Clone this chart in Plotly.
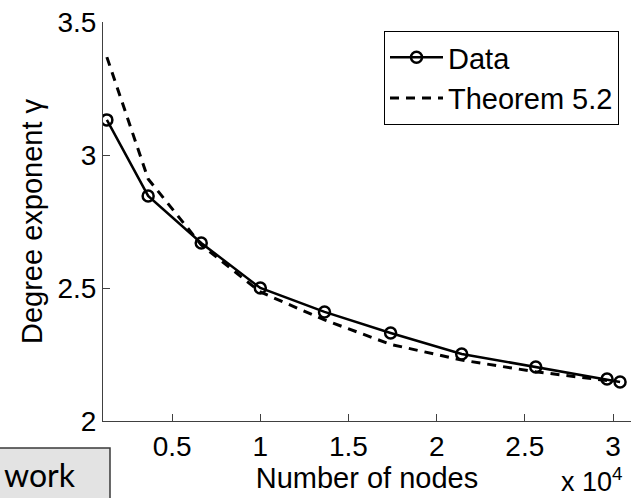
import plotly.graph_objects as go

# ---- data ----
nodes = [1300, 3640, 6650, 10000, 13640, 17390, 21420, 25620, 29660, 30400]
gamma_data = [3.132, 2.846, 2.669, 2.500, 2.410, 2.331, 2.252, 2.203, 2.158, 2.147]
nodes_theory = [1300, 3640, 6650, 10000, 13640, 17390, 21420, 25620, 29660]
gamma_theory = [3.368, 2.910, 2.662, 2.485, 2.380, 2.288, 2.229, 2.185, 2.152]
x_tickvals = [5000, 10000, 15000, 20000, 25000, 30000]
x_ticktext = ["0.5", "1", "1.5", "2", "2.5", "3"]
y_tickvals = [2, 2.5, 3, 3.5]
y_ticktext = ["2", "2.5", "3", "3.5"]

FONT = "Liberation Sans, Arial, sans-serif"
W, H = 631, 498
L, R, T, B = 103, 0, 22, 77

fig = go.Figure()
fig.add_trace(go.Scatter(
    x=nodes, y=gamma_data, name="Data", mode="lines+markers",
    line=dict(color="black", width=2.5),
    marker=dict(symbol="circle-open", size=11, color="black", line=dict(width=2.5)),
))
fig.add_trace(go.Scatter(
    x=nodes_theory, y=gamma_theory, name="Theorem 5.2", mode="lines",
    line=dict(color="black", width=3, dash="9px,7px"),
))

pw = W - L - R
ph = H - T - B

def px(xp):
    return (xp - L) / pw

def py(yp):
    return (H - B - yp) / ph

fig.update_layout(
    width=W, height=H,
    margin=dict(l=L, r=R, t=T, b=B),
    paper_bgcolor="white", plot_bgcolor="white",
    font=dict(family=FONT, size=28, color="black"),
    showlegend=True,
    legend=dict(
        x=px(384), y=py(31), xanchor="left", yanchor="top",
        bgcolor="white", bordercolor="black", borderwidth=1,
        font=dict(family=FONT, size=29, color="black"),
        tracegroupgap=0, itemwidth=53,
    ),
    xaxis=dict(
        range=[1080, 31020], tickvals=x_tickvals, ticktext=x_ticktext,
        ticks="inside", ticklen=7, tickcolor="#404040", tickwidth=1,
        showline=True, linecolor="#404040", linewidth=1,
        showgrid=False, zeroline=False, mirror=False,
        tickfont=dict(family=FONT, size=28, color="black"),
        title=dict(text="Number of nodes", font=dict(family=FONT, size=29, color="black"), standoff=1),
    ),
    yaxis=dict(
        range=[2, 3.5], tickvals=y_tickvals, ticktext=y_ticktext,
        ticks="inside", ticklen=7, tickcolor="#404040", tickwidth=1,
        showline=True, linecolor="#404040", linewidth=1,
        showgrid=False, zeroline=False, mirror=False,
        tickfont=dict(family=FONT, size=28, color="black"),
        title=dict(text="Degree exponent γ", font=dict(family=FONT, size=29, color="black"), standoff=6),
    ),
)

fig.add_annotation(
    text="x 10<sup>4</sup>", xref="paper", yref="paper",
    x=px(592), y=py(480), xanchor="center", yanchor="middle",
    showarrow=False, font=dict(family=FONT, size=27, color="black"),
)

# partially visible button at bottom-left
fig.add_shape(
    type="rect", xref="paper", yref="paper",
    x0=px(-5), x1=px(110), y0=py(448), y1=py(505),
    fillcolor="#e3e3e3", line=dict(color="#3a3a3a", width=1.5), layer="above",
)
fig.add_annotation(
    text="work", xref="paper", yref="paper",
    x=px(3), y=py(474), xanchor="left", yanchor="middle",
    showarrow=False, borderpad=0,
    font=dict(family="Lato, Open Sans, sans-serif", size=32, color="black"),
)

fig.write_html("out.html")
